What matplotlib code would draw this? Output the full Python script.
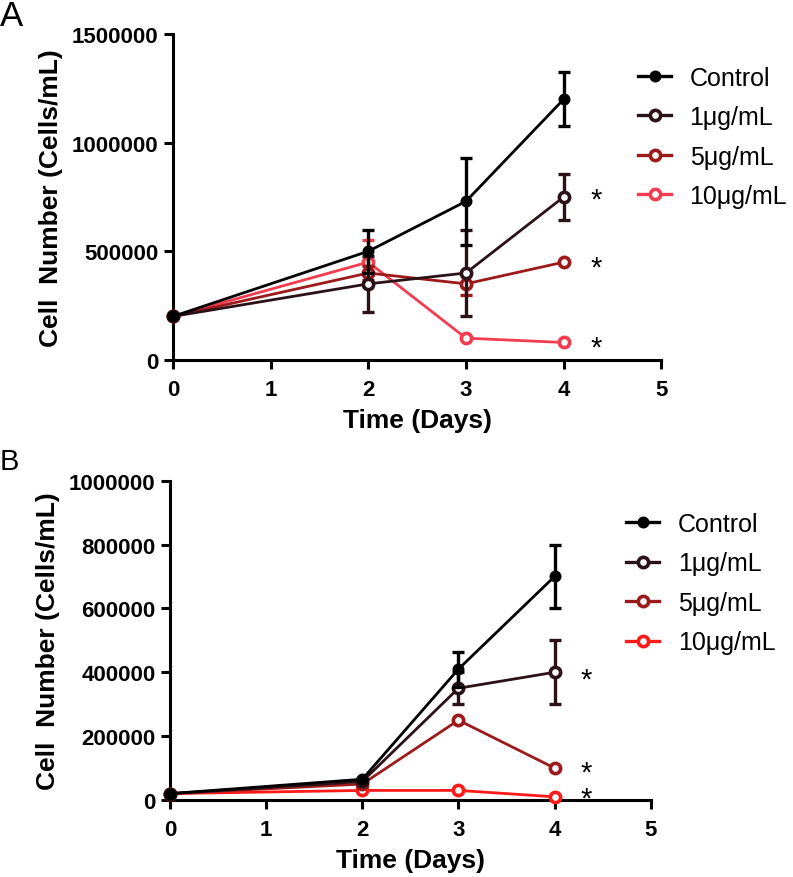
import matplotlib
matplotlib.use("Agg")
import matplotlib.pyplot as plt
from matplotlib.lines import Line2D

plt.rcParams['font.family'] = ['Liberation Sans', 'DejaVu Sans']

days = [0, 2, 3, 4]
labels = ["Control", "1\u03bcg/mL", "5\u03bcg/mL", "10\u03bcg/mL"]

# Panel A
a_control = [200000, 500000, 730000, 1200000]
a_control_err = [0, 100000, 200000, 125000]
a_1ug = [200000, 350000, 400000, 750000]
a_1ug_err = [0, 130000, 200000, 105000]
a_5ug = [200000, 400000, 350000, 450000]
a_5ug_err = [0, 30000, 50000, 0]
a_10ug = [200000, 450000, 100000, 80000]
a_10ug_err = [0, 100000, 0, 0]

# Panel B
b_control = [20000, 65000, 410000, 700000]
b_control_err = [0, 0, 55000, 100000]
b_1ug = [20000, 58000, 350000, 400000]
b_1ug_err = [0, 0, 50000, 100000]
b_5ug = [20000, 50000, 250000, 100000]
b_5ug_err = [0, 0, 0, 0]
b_10ug = [20000, 30000, 30000, 10000]
b_10ug_err = [0, 0, 0, 0]

a_stars_y = [768000, 452000, 84000]
b_stars_y = [397000, 104000, 24000]

colors_a = ["#000000", "#2a1217", "#9c1a1a", "#f23c50"]
colors_b = ["#000000", "#2a1217", "#9c1a1a", "#ff1a1a"]

fig = plt.figure(figsize=(7.93, 8.78), dpi=100)

def panel(rect, series, errs, colors, ylim, yticks, stars_y, letter, letter_pos, letter_size, leg_pos):
    ax = fig.add_axes(rect)
    order = [3, 2, 1, 0]
    for i in order:
        filled = (i == 0)
        z = 3 + (4 - i)
        ax.errorbar(days, series[i], yerr=errs[i], fmt='none', ecolor=colors[i],
                    elinewidth=2.4, capsize=4.5, capthick=2.4,
                    clip_on=False, zorder=z)
        ax.plot(days, series[i], color=colors[i], lw=2.0,
                marker='o', ms=8.6 if filled else 7.4,
                mfc=colors[i] if filled else 'white',
                mec=colors[i], mew=0.01 if filled else 2.6,
                clip_on=False, zorder=z)
    ax.set_xlim(0, 5)
    ax.set_ylim(*ylim)
    ax.set_xticks([0, 1, 2, 3, 4, 5])
    ax.set_yticks(yticks)
    ax.set_yticklabels([str(t) for t in yticks])
    for s in ['top', 'right']:
        ax.spines[s].set_visible(False)
    for s in ['left', 'bottom']:
        ax.spines[s].set_linewidth(2.2)
    ax.tick_params(width=2.2, length=6.5, labelsize=16)
    ax.tick_params(axis='x', pad=7)
    ax.tick_params(axis='y', pad=4)
    for t in ax.get_xticklabels() + ax.get_yticklabels():
        t.set_fontweight('bold')
    ax.set_xlabel("Time (Days)", fontsize=19, fontweight='bold', labelpad=6)
    ax.set_ylabel("Cell  Number (Cells/mL)", fontsize=19, fontweight='bold', labelpad=6)
    for y in stars_y:
        ax.annotate("*", xy=(4.33, y), xytext=(0, -4.5), textcoords='offset points',
                    fontsize=21, ha='center', va='center', annotation_clip=False)
    fig.text(letter_pos[0], letter_pos[1], letter, fontsize=letter_size, ha='left', va='top')
    handles = []
    for i in range(4):
        filled = (i == 0)
        handles.append(Line2D([], [], color=colors[i], lw=2.4, marker='o',
                              ms=8.6 if filled else 7.4,
                              mfc=colors[i] if filled else 'white',
                              mec=colors[i], mew=0.01 if filled else 2.6))
    ax.legend(handles, labels, loc='upper left', bbox_to_anchor=leg_pos,
              bbox_transform=fig.transFigure, frameon=False, fontsize=18,
              handlelength=1.3, handletextpad=0.75, labelspacing=0.62,
              borderpad=0, borderaxespad=0)
    return ax

axA = panel([0.218, 0.589, 0.616, 0.371],
            [a_control, a_1ug, a_5ug, a_10ug],
            [a_control_err, a_1ug_err, a_5ug_err, a_10ug_err],
            colors_a, (0, 1500000), [0, 500000, 1000000, 1500000], a_stars_y,
            "A", (0.0, 1.0), 25, (0.805, 0.924))
axB = panel([0.2144, 0.0877, 0.6062, 0.3637],
            [b_control, b_1ug, b_5ug, b_10ug],
            [b_control_err, b_1ug_err, b_5ug_err, b_10ug_err],
            colors_b, (0, 1000000), [0, 200000, 400000, 600000, 800000, 1000000], b_stars_y,
            "B", (0.0, 0.490), 21, (0.790, 0.416))

fig.savefig("out.png", dpi=100)
